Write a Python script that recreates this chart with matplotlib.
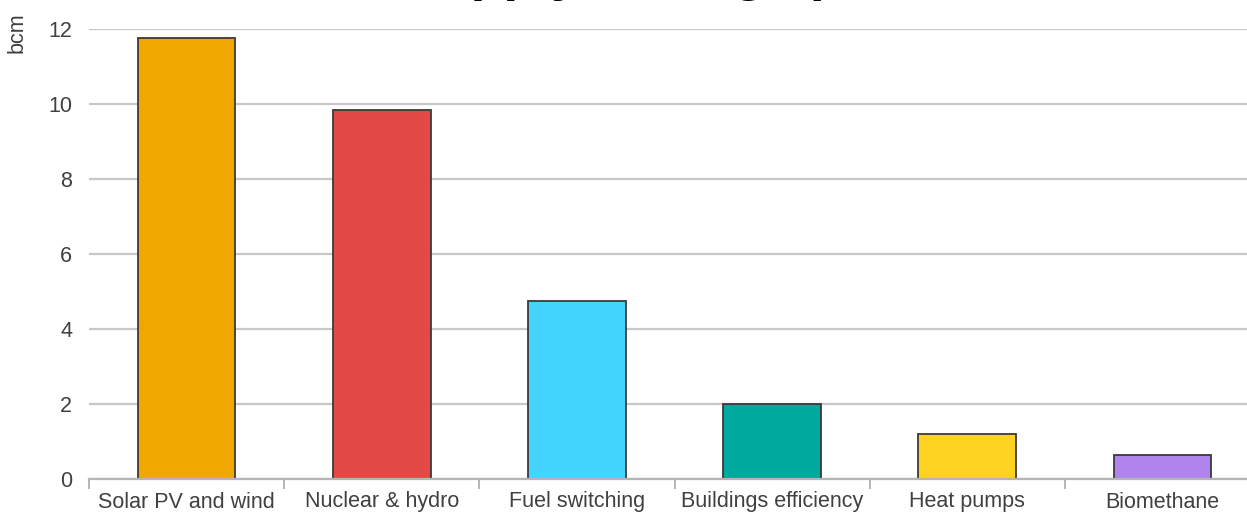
import matplotlib.pyplot as plt
import numpy as np

plt.rcParams['font.family'] = ['Liberation Sans', 'DejaVu Sans']

#=======================
# Data
categories = ['Solar PV and wind', 'Nuclear & hydro', 'Fuel switching',
              'Buildings efficiency', 'Heat pumps', 'Biomethane']
savings_bcm = [11.75, 9.85, 4.75, 2.0, 1.2, 0.65]
bar_colors = ['#F0A800', '#E34A46', '#45D4FF', '#00A99D', '#FFD21F', '#B084EC']
y_ticks = [0, 2, 4, 6, 8, 10, 12]

#=======================
# Figure
fig = plt.figure(figsize=(12.47, 5.15), dpi=100)
# axes runs a bit past the right edge, like the exported chart
ax = fig.add_axes([89 / 1247, 36 / 515, (1260 - 89) / 1247, 450 / 515])

x = np.arange(len(categories))
ax.bar(x, savings_bcm, width=0.5, color=bar_colors,
       edgecolor='#3a3a3a', linewidth=1.3, zorder=3)

ax.set_xlim(-0.5, len(categories) - 0.5)
ax.set_ylim(0, 12)
ax.set_yticks(y_ticks)
ax.yaxis.grid(True, color='#c8c8c8', linewidth=1.6, zorder=0)
ax.set_axisbelow(True)

for side in ['top', 'right', 'left']:
    ax.spines[side].set_visible(False)
ax.spines['bottom'].set_color('#b5b5b5')
ax.spines['bottom'].set_linewidth(1.6)
ax.spines['bottom'].set_zorder(4)

# category labels in the middle, tick marks on the boundaries
ax.set_xticks(x)
ax.set_xticklabels(categories)
ax.set_xticks(np.arange(-0.5, len(categories)), minor=True)
ax.tick_params(axis='x', which='major', length=0, pad=9,
               labelsize=15.5, labelcolor='#404040')
ax.tick_params(axis='x', which='minor', length=7, width=1.4,
               color='#b5b5b5', direction='out')
ax.tick_params(axis='y', length=0, pad=12, labelsize=15.5, labelcolor='#404040')

fig.text(17 / 1247, 1 - 33 / 515, 'bcm', rotation=90, ha='center',
         va='center', fontsize=15.5, color='#404040')

# chart title sits mostly above the top of the image
fig.text(662 / 1247, 1 + 10 / 515, 'Gas supply savings potential',
         ha='center', va='baseline', fontsize=38.5, fontweight='bold',
         color='black')

fig.savefig('out.png', dpi=100)
